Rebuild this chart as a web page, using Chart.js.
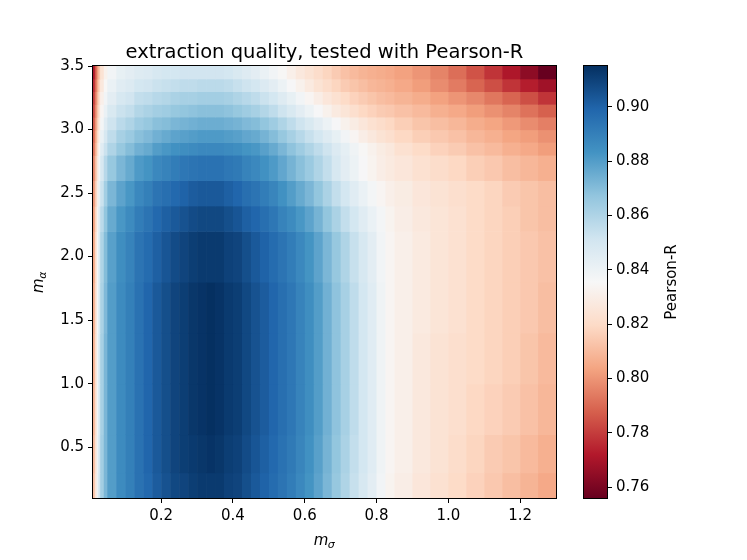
<!DOCTYPE html>
<html>
<head>
<meta charset="utf-8">
<script src="https://cdn.jsdelivr.net/npm/chart.js@4.4.0/dist/chart.umd.min.js"></script>
<style>
  html, body { margin: 0; padding: 0; background: #fff; }
  #wrap { position: relative; width: 747px; height: 560px; }
  #wrap canvas { position: absolute; left: 0; top: 0; }
</style>
</head>
<body>
<div id="wrap">
  <canvas id="heat" width="747" height="560"></canvas>
  <canvas id="cbar" width="747" height="560"></canvas>
</div>
<script>
// m_sigma cell edges (x)
var sigmaEdges = [0.01, 0.015, 0.02, 0.025, 0.03, 0.04, 0.05, 0.075, 0.1,
                  0.125, 0.15, 0.175, 0.2, 0.225, 0.25, 0.275, 0.3, 0.325, 0.35, 0.375, 0.4, 0.425, 0.45,
                  0.475, 0.5, 0.525, 0.55, 0.575, 0.6, 0.625, 0.65, 0.675, 0.7, 0.725, 0.75, 0.775, 0.8, 0.825, 0.85,
                  0.9, 0.95, 1.0, 1.05, 1.1, 1.15, 1.2, 1.25, 1.3];
// m_alpha cell edges (y)
var alphaEdges = [0.1, 0.3, 0.6, 1.0, 1.4, 1.8, 2.2, 2.4, 2.6, 2.8, 2.9, 3.0, 3.1, 3.2, 3.3, 3.4, 3.5];

// Pearson-R, one row per m_alpha band, bottom row first
var pearsonR = [
  [.812,.826,.840,.852,.863,.872,.880,.886, .890,.895,.898,.902,.905,.908,.909,.911,.912,.912,.912,.910,.909,.906, .903,.900,.897,.894,.891,.887,.883,.878,.872,.866,.860,.854,.849,.844,.838,.833, .830,.826,.823,.820,.817,.814,.811,.808,.805],
  [.810,.824,.839,.851,.863,.872,.880,.886, .890,.895,.899,.903,.906,.909,.911,.912,.913,.914,.913,.911,.910,.907, .904,.901,.898,.895,.892,.888,.884,.879,.873,.867,.861,.855,.850,.845,.839,.834, .831,.827,.824,.821,.818,.815,.813,.810,.807],
  [.808,.822,.837,.850,.862,.872,.880,.886, .890,.895,.899,.903,.906,.909,.911,.913,.914,.915,.914,.912,.911,.908, .905,.902,.899,.896,.893,.889,.885,.880,.874,.868,.862,.856,.850,.845,.839,.834, .831,.827,.824,.822,.819,.817,.815,.812,.809],
  [.807,.822,.837,.850,.862,.872,.880,.886, .890,.895,.899,.903,.906,.909,.911,.913,.914,.915,.914,.912,.911,.908, .905,.902,.899,.896,.893,.889,.885,.880,.874,.868,.862,.856,.850,.845,.839,.834, .831,.827,.824,.822,.820,.818,.816,.813,.810],
  [.806,.821,.836,.849,.861,.871,.880,.886, .890,.895,.899,.903,.906,.909,.911,.913,.914,.915,.914,.912,.911,.908, .905,.902,.899,.896,.893,.889,.885,.880,.874,.868,.862,.856,.850,.845,.839,.834, .831,.828,.825,.823,.820,.818,.816,.814,.811],
  [.804,.820,.835,.848,.860,.870,.879,.885, .889,.894,.897,.901,.904,.907,.909,.911,.912,.912,.912,.910,.909,.906, .903,.900,.897,.894,.891,.887,.883,.878,.872,.866,.860,.854,.849,.844,.838,.834, .831,.828,.825,.823,.820,.818,.816,.814,.812],
  [.802,.818,.833,.846,.857,.867,.876,.882, .886,.891,.894,.898,.901,.903,.905,.907,.908,.908,.908,.906,.904,.901, .899,.896,.893,.889,.886,.882,.878,.873,.867,.861,.855,.850,.845,.841,.837,.833, .830,.827,.825,.823,.820,.818,.816,.813,.811],
  [.800,.815,.830,.842,.853,.863,.872,.878, .882,.887,.890,.894,.896,.898,.900,.902,.903,.903,.903,.901,.899,.896, .894,.891,.888,.884,.880,.876,.872,.867,.861,.855,.850,.845,.841,.837,.834,.831, .829,.826,.824,.822,.820,.818,.815,.813,.811],
  [.796,.811,.826,.838,.849,.858,.866,.872, .876,.881,.883,.887,.889,.891,.893,.894,.895,.895,.895,.893,.892,.889, .887,.884,.881,.877,.873,.869,.865,.860,.855,.849,.844,.840,.836,.833,.830,.828, .826,.823,.821,.819,.816,.814,.811,.809,.807],
  [.792,.807,.822,.834,.845,.853,.860,.866, .870,.874,.876,.880,.882,.884,.885,.886,.887,.887,.887,.886,.885,.883, .882,.879,.876,.872,.868,.864,.860,.856,.852,.847,.843,.839,.835,.832,.829,.827, .823,.820,.817,.815,.812,.810,.807,.805,.802],
  [.789,.804,.819,.831,.841,.849,.856,.862, .865,.869,.871,.874,.876,.878,.879,.880,.881,.881,.881,.880,.879,.877, .876,.873,.870,.866,.862,.858,.854,.850,.846,.842,.838,.834,.830,.827,.824,.822, .819,.816,.814,.812,.809,.807,.804,.802,.799],
  [.786,.800,.815,.827,.837,.845,.852,.857, .860,.864,.866,.869,.870,.872,.873,.874,.875,.875,.875,.874,.873,.871, .870,.867,.864,.860,.856,.852,.848,.844,.840,.836,.832,.829,.826,.823,.821,.819, .816,.813,.811,.809,.806,.804,.801,.798,.795],
  [.783,.797,.812,.824,.834,.841,.848,.853, .855,.859,.861,.863,.864,.866,.867,.868,.869,.869,.869,.868,.866,.864, .862,.859,.856,.852,.848,.844,.840,.836,.832,.828,.825,.822,.819,.817,.815,.814, .812,.810,.807,.805,.802,.799,.796,.792,.788],
  [.780,.794,.809,.821,.831,.838,.844,.849, .851,.855,.856,.858,.859,.861,.862,.862,.863,.863,.863,.862,.860,.858, .856,.853,.850,.846,.842,.838,.834,.830,.826,.823,.820,.817,.815,.813,.811,.810, .808,.806,.803,.800,.797,.793,.789,.784,.778],
  [.776,.790,.805,.817,.827,.835,.841,.845, .847,.850,.851,.853,.854,.855,.856,.856,.857,.857,.857,.856,.854,.852, .850,.847,.844,.840,.836,.832,.828,.824,.821,.818,.815,.813,.811,.809,.808,.807, .805,.802,.798,.794,.789,.784,.778,.773,.768],
  [.771,.786,.801,.813,.824,.832,.838,.842, .844,.846,.847,.849,.850,.850,.851,.851,.851,.851,.851,.850,.848,.846, .844,.841,.838,.835,.831,.827,.824,.821,.818,.815,.812,.810,.808,.807,.806,.805, .803,.800,.796,.791,.785,.778,.771,.764,.756]
];

var xTicks = [0.2, 0.4, 0.6, 0.8, 1.0, 1.2];
var yTicks = [0.5, 1.0, 1.5, 2.0, 2.5, 3.0, 3.5];
var cbTicks = [0.76, 0.78, 0.80, 0.82, 0.84, 0.86, 0.88, 0.90];

var titleText = 'extraction quality, tested with Pearson-R';
var cbLabel = 'Pearson-R';

// matplotlib RdBu
var rdbu = ['#67001f', '#b2182b', '#d6604d', '#f4a582', '#fddbc7', '#f7f7f7',
            '#d1e5f0', '#92c5de', '#4393c3', '#2166ac', '#053061'];

var allVals = [].concat.apply([], pearsonR);
var vMin = Math.min.apply(null, allVals);
var vMax = Math.max.apply(null, allVals);

function hexRgb(h) {
    return [parseInt(h.substr(1, 2), 16), parseInt(h.substr(3, 2), 16), parseInt(h.substr(5, 2), 16)];
}

function colorFor(v) {
    var t = (v - vMin) / (vMax - vMin);
    t = Math.max(0, Math.min(1, t)) * (rdbu.length - 1);
    var i = Math.min(Math.floor(t), rdbu.length - 2);
    var f = t - i;
    var a = hexRgb(rdbu[i]), b = hexRgb(rdbu[i + 1]);
    return 'rgb(' + Math.round(a[0] + (b[0] - a[0]) * f) + ',' + Math.round(a[1] + (b[1] - a[1]) * f) + ',' + Math.round(a[2] + (b[2] - a[2]) * f) + ')';
}

var FONT = "'DejaVu Sans', sans-serif";

// cell centres as the dataset, so the scales own the data
var cells = [];
for (var r = 0; r < pearsonR.length; r++) {
    for (var c = 0; c < pearsonR[r].length; c++) {
        cells.push({
            x: (sigmaEdges[c] + sigmaEdges[c + 1]) / 2,
            y: (alphaEdges[r] + alphaEdges[r + 1]) / 2,
            v: pearsonR[r][c], r: r, c: c
        });
    }
}

// m with a greek subscript, like matplotlib mathtext
function drawMathLabel(ctx, x, y, sub, rotate) {
    ctx.save();
    ctx.translate(x, y);
    if (rotate) ctx.rotate(-Math.PI / 2);
    ctx.fillStyle = '#000';
    ctx.textAlign = 'left';
    ctx.textBaseline = 'alphabetic';
    ctx.font = 'italic 15px ' + FONT;
    var wm = ctx.measureText('m').width;
    ctx.font = 'italic 11px ' + FONT;
    var ws = ctx.measureText(sub).width;
    var x0 = -(wm + ws) / 2;
    ctx.font = 'italic 15px ' + FONT;
    ctx.fillText('m', x0, 5);
    ctx.font = 'italic 11px ' + FONT;
    ctx.fillText(sub, x0 + wm - 0.5, 8);
    ctx.restore();
}

var heatPlugin = {
    id: 'heatCells',
    beforeDatasetsDraw: function (chart) {
        var ctx = chart.ctx, xs = chart.scales.x, ys = chart.scales.y, a = chart.chartArea;
        ctx.save();
        ctx.beginPath();
        ctx.rect(a.left, a.top, a.right - a.left, a.bottom - a.top);
        ctx.clip();
        chart.data.datasets[0].data.forEach(function (p) {
            var xl = xs.getPixelForValue(sigmaEdges[p.c]);
            var xr = xs.getPixelForValue(sigmaEdges[p.c + 1]);
            var yt = ys.getPixelForValue(alphaEdges[p.r + 1]);
            var yb = ys.getPixelForValue(alphaEdges[p.r]);
            ctx.fillStyle = colorFor(p.v);
            ctx.fillRect(xl, yt, xr - xl + 0.6, yb - yt + 0.6);
        });
        ctx.restore();
    },
    afterDraw: function (chart) {
        var ctx = chart.ctx, a = chart.chartArea;
        ctx.save();
        ctx.strokeStyle = '#000';
        ctx.lineWidth = 1;
        ctx.strokeRect(Math.round(a.left) - 0.5, Math.round(a.top) - 0.5, Math.round(a.right - a.left) + 1, Math.round(a.bottom - a.top) + 1);
        ctx.fillStyle = '#000';
        ctx.font = '19.5px ' + FONT;
        ctx.textAlign = 'center';
        ctx.textBaseline = 'alphabetic';
        ctx.fillText(titleText, (a.left + a.right) / 2, 58);
        drawMathLabel(ctx, (a.left + a.right) / 2, 540, '\u03c3', false);
        drawMathLabel(ctx, 38, (a.top + a.bottom) / 2, '\u03b1', true);
        ctx.translate(672, (a.top + a.bottom) / 2);
        ctx.rotate(-Math.PI / 2);
        ctx.font = '15px ' + FONT;
        ctx.textAlign = 'center';
        ctx.textBaseline = 'middle';
        ctx.fillText(cbLabel, 0, 0);
        ctx.restore();
    }
};

var tickFont = { family: FONT, size: 15 };

new Chart(document.getElementById('heat').getContext('2d'), {
    type: 'scatter',
    data: { datasets: [{ data: cells, pointRadius: 0, pointHoverRadius: 0 }] },
    options: {
        responsive: false,
        animation: false,
        events: [],
        layout: { padding: { left: 0, top: 66, right: 191, bottom: 0 } },
        plugins: { legend: { display: false }, tooltip: { enabled: false } },
        scales: {
            x: {
                type: 'linear', min: 0.01, max: 1.3,
                afterBuildTicks: function (s) { s.ticks = xTicks.map(function (v) { return { value: v }; }); },
                afterFit: function (s) { s.height = 62; },
                grid: { drawOnChartArea: false, color: '#000', tickLength: 5 },
                border: { display: false },
                ticks: { color: '#000', font: tickFont, padding: 4, maxRotation: 0, autoSkip: false,
                         callback: function (v) { return v.toFixed(1); } }
            },
            y: {
                type: 'linear', min: 0.1, max: 3.5,
                afterBuildTicks: function (s) { s.ticks = yTicks.map(function (v) { return { value: v }; }); },
                afterFit: function (s) { s.width = 93; },
                grid: { drawOnChartArea: false, color: '#000', tickLength: 5 },
                border: { display: false },
                ticks: { color: '#000', font: tickFont, padding: 4, autoSkip: false,
                         callback: function (v) { return v.toFixed(1); } }
            }
        }
    },
    plugins: [heatPlugin]
});

var cbarPlugin = {
    id: 'cbarFill',
    beforeDatasetsDraw: function (chart) {
        var ctx = chart.ctx, ys = chart.scales.y, a = chart.chartArea;
        var top = ys.getPixelForValue(vMax), bot = ys.getPixelForValue(vMin);
        var g = ctx.createLinearGradient(0, bot, 0, top);
        rdbu.forEach(function (col, i) { g.addColorStop(i / (rdbu.length - 1), col); });
        ctx.save();
        ctx.fillStyle = g;
        ctx.fillRect(a.left, top, a.right - a.left, bot - top);
        ctx.strokeStyle = '#000';
        ctx.lineWidth = 1;
        ctx.strokeRect(Math.round(a.left) - 0.5, Math.round(top) - 0.5, Math.round(a.right - a.left) + 1, Math.round(bot - top) + 1);
        ctx.restore();
    }
};

new Chart(document.getElementById('cbar').getContext('2d'), {
    type: 'scatter',
    data: { datasets: [{ data: [], pointRadius: 0 }] },
    options: {
        responsive: false,
        animation: false,
        events: [],
        layout: { padding: { left: 584, top: 66, right: 80, bottom: 62 } },
        plugins: { legend: { display: false }, tooltip: { enabled: false } },
        scales: {
            x: { type: 'linear', display: false, min: 0, max: 1 },
            y: {
                type: 'linear', position: 'right', min: vMin, max: vMax,
                afterBuildTicks: function (s) { s.ticks = cbTicks.map(function (v) { return { value: v }; }); },
                afterFit: function (s) { s.width = 60; },
                grid: { drawOnChartArea: false, color: '#000', tickLength: 5 },
                border: { display: false },
                ticks: { color: '#000', font: tickFont, padding: 4, autoSkip: false,
                         callback: function (v) { return v.toFixed(2); } }
            }
        }
    },
    plugins: [cbarPlugin]
});
</script>
</body>
</html>
